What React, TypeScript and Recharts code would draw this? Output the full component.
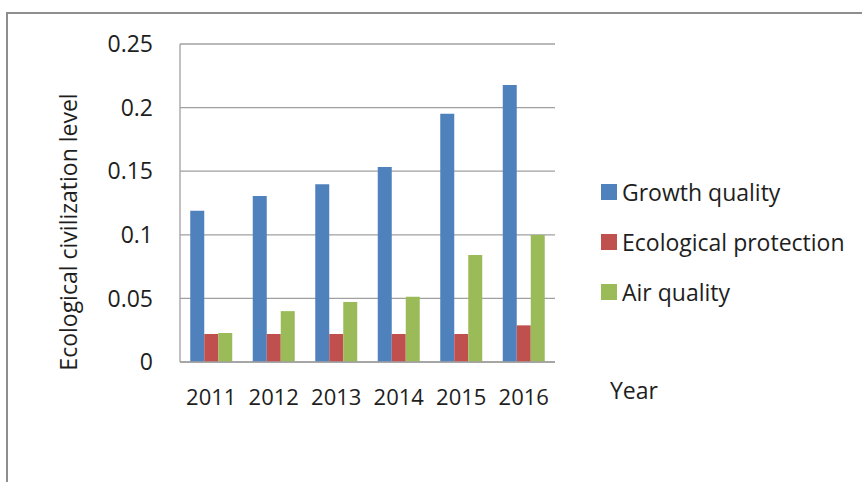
import React from "react";
import { BarChart, Bar, XAxis, YAxis, CartesianGrid, Legend } from "recharts";

const years = ["2011", "2012", "2013", "2014", "2015", "2016"];
const growthQuality = [0.119, 0.1305, 0.1397, 0.1533, 0.1952, 0.2178];
const ecologicalProtection = [0.022, 0.022, 0.022, 0.022, 0.022, 0.0288];
const airQuality = [0.0228, 0.040, 0.0472, 0.0513, 0.0841, 0.0998];
const yTicks = [0, 0.05, 0.1, 0.15, 0.2, 0.25];

const seriesNames = ["Growth quality", "Ecological protection", "Air quality"];
const seriesColors = ["#4F81BD", "#C0504D", "#9BBB59"];

const data = years.map((y, i) => ({
  year: y,
  g: growthQuality[i],
  e: ecologicalProtection[i],
  a: airQuality[i],
}));

const FONT = "'Open Sans', 'Noto Sans', sans-serif";
const TEXT = "#1e1e1e";
const GRID = "#a0a0a0";

const LegendContent = (props: any) => {
  const payload = [...(props.payload || [])].sort(
    (a: any, b: any) => seriesNames.indexOf(a.value) - seriesNames.indexOf(b.value)
  );
  return (
    <div style={{ fontFamily: FONT, fontSize: 23, color: TEXT }}>
      {payload.map((p: any) => (
        <div
          key={p.value}
          style={{ height: 50, display: "flex", alignItems: "center", whiteSpace: "nowrap" }}
        >
          <span
            style={{
              display: "inline-block",
              width: 16,
              height: 16,
              background: p.color,
              marginRight: 5,
            }}
          />
          <span>{p.value}</span>
        </div>
      ))}
    </div>
  );
};

export default function App() {
  return (
    <div
      style={{
        position: "absolute",
        left: 0,
        top: 0,
        width: 862,
        height: 482,
        overflow: "hidden",
        background: "#fff",
      }}
    >
      <div
        style={{
          position: "absolute",
          left: 6,
          top: 12,
          width: 1000,
          height: 1000,
          borderTop: "2px solid #8e8e8e",
          borderLeft: "2px solid #8e8e8e",
        }}
      />
      <div style={{ position: "absolute", left: 0, top: 0 }}>
        <BarChart
          width={862}
          height={482}
          data={data}
          margin={{ top: 44, right: 307, left: 100, bottom: 90 }}
          barCategoryGap="16.4%"
          barGap={0}
        >
          <CartesianGrid vertical={false} stroke={GRID} strokeWidth={1.3} />
          <XAxis
            dataKey="year"
            axisLine={{ stroke: GRID, strokeWidth: 1.3 }}
            tickLine={false}
            tickMargin={21}
            height={30}
            tick={{ fill: TEXT, fontSize: 22, fontFamily: FONT }}
            label={{
              content: () => (
                <text x={610} y={399} fill={TEXT} fontSize={23} fontFamily={FONT}>
                  Year
                </text>
              ),
            }}
          />
          <YAxis
            width={80}
            domain={[0, 0.25]}
            ticks={yTicks}
            interval={0}
            axisLine={{ stroke: GRID, strokeWidth: 1.3 }}
            tickLine={false}
            tickMargin={21}
            tick={{ fill: TEXT, fontSize: 23, fontFamily: FONT }}
            label={{
              content: () => (
                <text
                  x={77}
                  y={232}
                  transform="rotate(-90, 77, 232)"
                  textAnchor="middle"
                  fill={TEXT}
                  fontSize={23}
                  fontFamily={FONT}
                >
                  Ecological civilization level
                </text>
              ),
            }}
          />
          <Legend
            layout="vertical"
            align="center"
            verticalAlign="middle"
            wrapperStyle={{ left: 601, top: 167, width: 261 }}
            content={<LegendContent />}
          />
          <Bar dataKey="g" name={seriesNames[0]} fill={seriesColors[0]} isAnimationActive={false} />
          <Bar dataKey="e" name={seriesNames[1]} fill={seriesColors[1]} isAnimationActive={false} />
          <Bar dataKey="a" name={seriesNames[2]} fill={seriesColors[2]} isAnimationActive={false} />
        </BarChart>
      </div>
    </div>
  );
}
